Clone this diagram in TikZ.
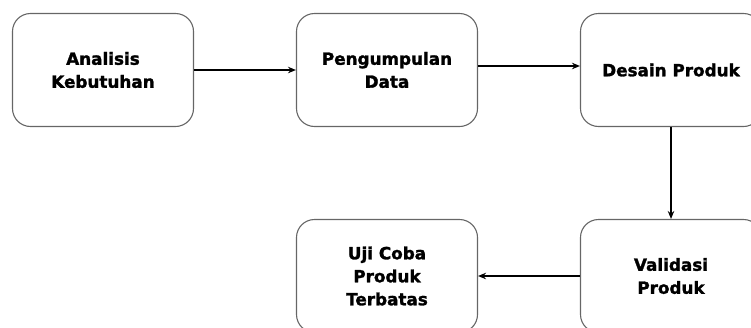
\documentclass[tikz,border=0pt]{standalone}
\usepackage{fontspec}
\setmainfont{DejaVu Sans}
\newfontfamily\heavyfont[FakeBold=1.6]{DejaVu Sans Bold}
\usetikzlibrary{arrows.meta}
\begin{document}
\begin{tikzpicture}[x=1pt,y=1pt,
  box/.style={draw=black!60, line width=1.1pt, rounded corners=18pt, minimum width=181pt, minimum height=113pt, align=center, font=\heavyfont\fontsize{16.8}{23}\selectfont, inner sep=0pt},
  arr/.style={line width=1.3pt, -{Stealth[length=8pt,width=6.5pt]}}]
\useasboundingbox (0,0) rectangle (751,-327);
\node[box] (b1) at (103,-70) {Analisis\\Kebutuhan};
\node[box] (b2) at (387,-70) {Pengumpulan\\Data};
\node[box] (b3) at (671,-70) {Desain Produk};
\node[box] (b4) at (671,-276) {Validasi\\Produk};
\node[box] (b5) at (387,-276) {Uji Coba\\Produk\\Terbatas};
\draw[arr] (b1.east) -- (b2.west);
\draw[arr] ([yshift=4pt]b2.east) -- ([yshift=4pt]b3.west);
\draw[arr] (b3.south) -- (b4.north);
\draw[arr] (b4.west) -- (b5.east);
\end{tikzpicture}
\end{document}
